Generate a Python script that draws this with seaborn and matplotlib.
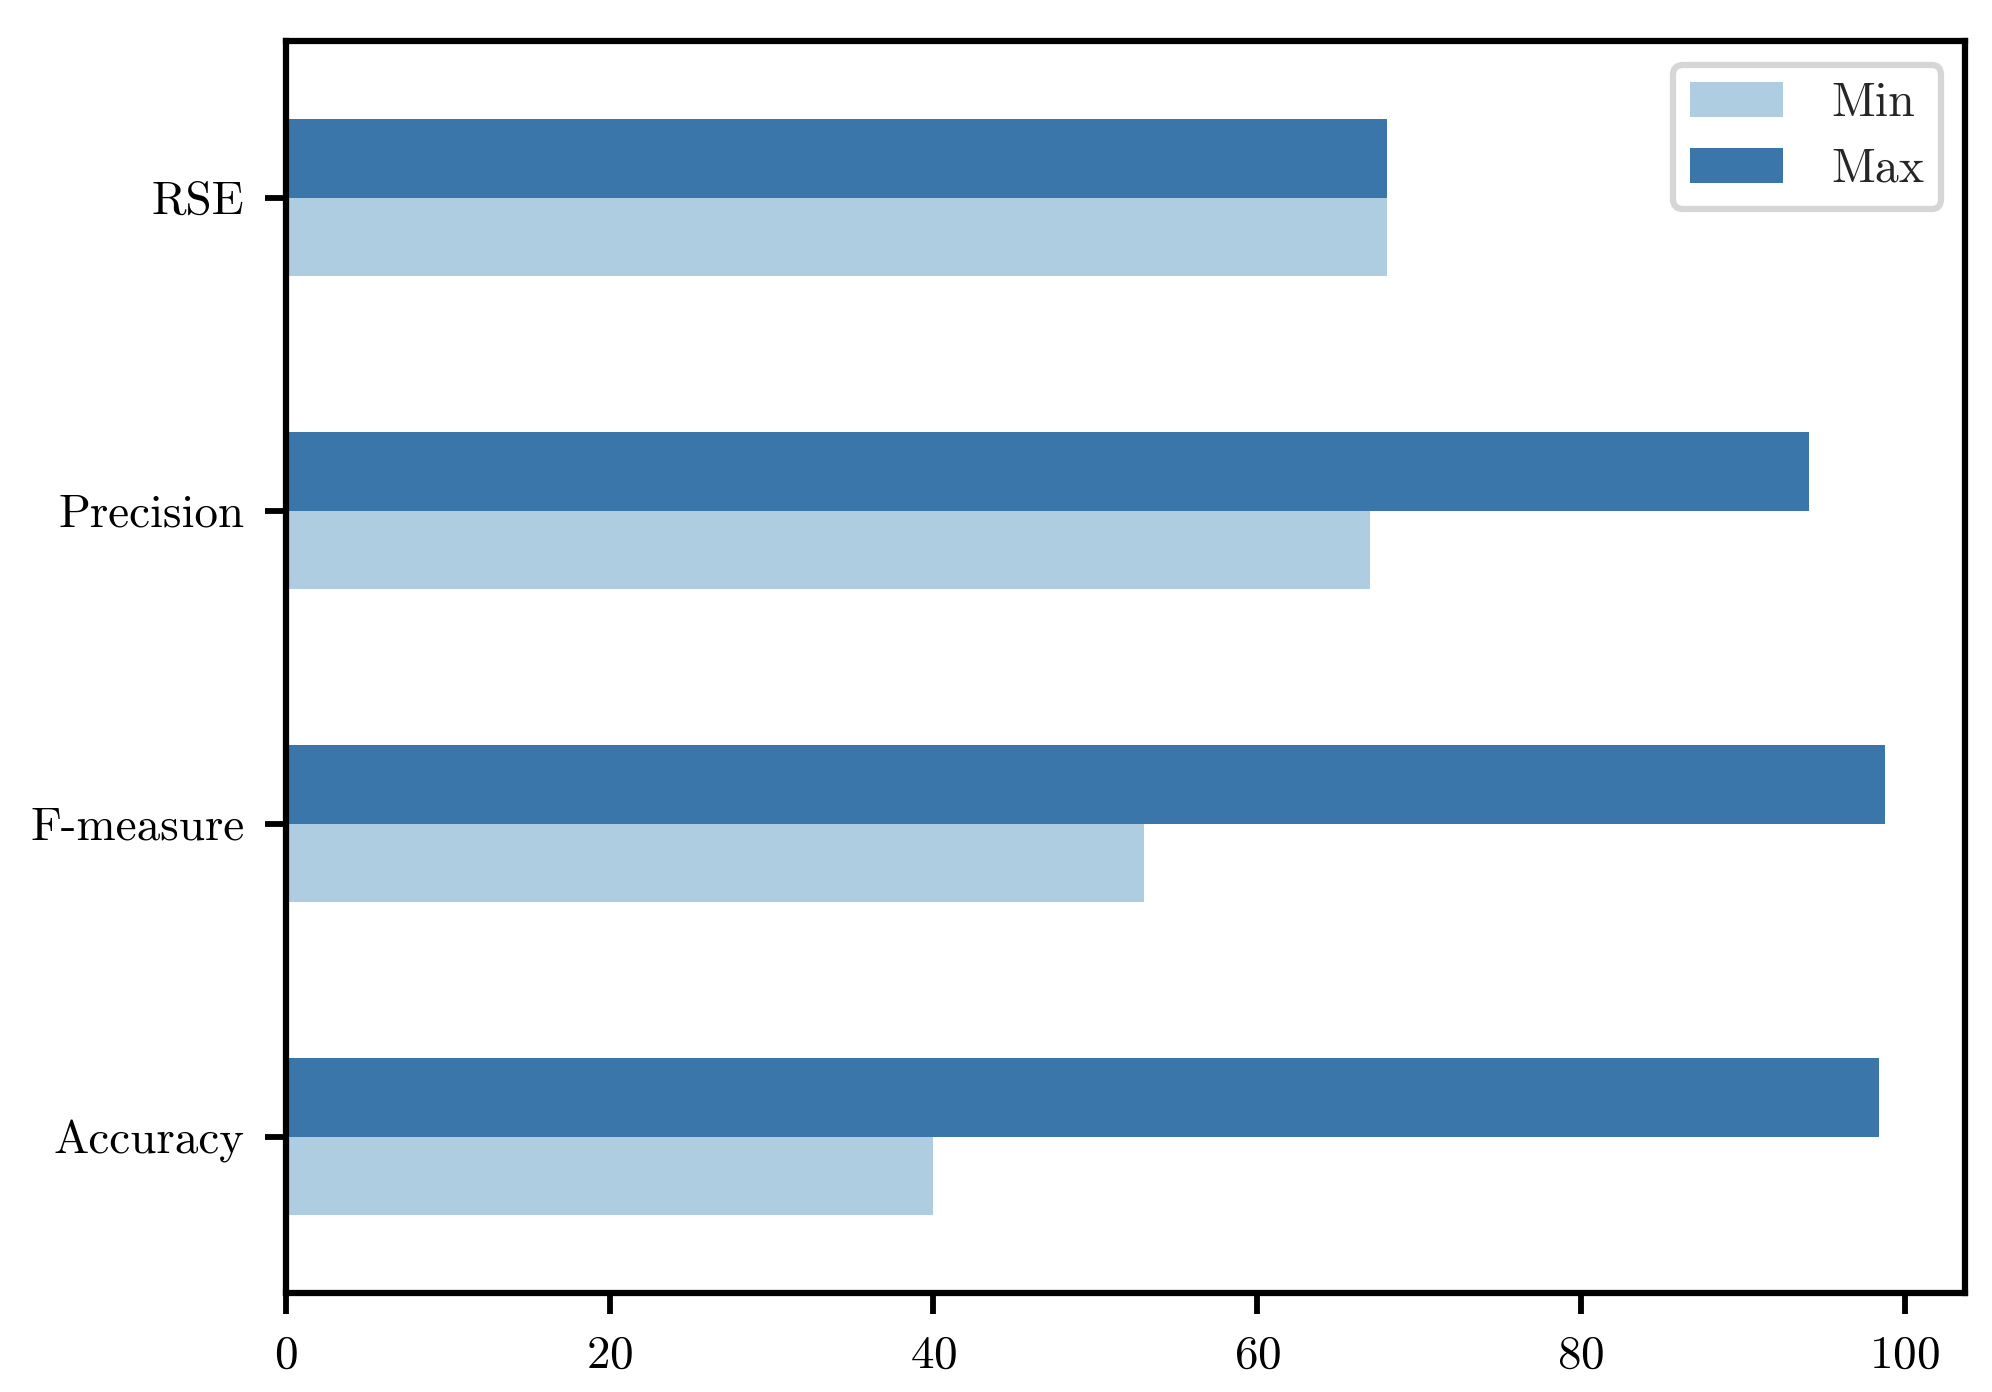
import pandas as pd
import seaborn as sns
import matplotlib.pyplot as plt

# Data
metrics = ['Accuracy', 'F-measure', 'Precision', 'RSE']
min_vals = [40.0, 53.0, 67.0, 68.0]
max_vals = [98.4, 98.8, 94.1, 68.0]
series = ['Min', 'Max']
colors = ['#afcde1', '#3b76ab']

df = pd.DataFrame({'metric': metrics * 2,
                   'value': min_vals + max_vals,
                   'kind': ['Min'] * len(metrics) + ['Max'] * len(metrics)})

sns.set_style('ticks')
plt.rcParams['font.family'] = ['cmr10', 'DejaVu Serif']
plt.rcParams['mathtext.fontset'] = 'cm'
plt.rcParams['axes.formatter.use_mathtext'] = True
plt.rcParams['axes.unicode_minus'] = False

fig, ax = plt.subplots(figsize=(6.64, 4.64), dpi=300)
fig.subplots_adjust(left=0.1436, right=0.9865, top=0.9705, bottom=0.0711)

sns.barplot(data=df, y='metric', x='value', hue='kind', order=metrics,
            hue_order=series, palette=colors, width=0.5, gap=0,
            orient='h', ax=ax, saturation=1, linewidth=0)

# first category at the bottom, like pandas barh
if ax.yaxis_inverted():
    ax.invert_yaxis()
ax.set_ylim(-0.5, 3.5)
ax.set_xlim(0, 103.74)
ax.set_xticks([0, 20, 40, 60, 80, 100])
ax.set_xlabel('')
ax.set_ylabel('')

for sp in ax.spines.values():
    sp.set_linewidth(1.5)
    sp.set_color('black')
ax.tick_params(axis='both', length=5, width=1.4, labelsize=11.3,
               colors='black', pad=5)

leg = ax.legend(loc='upper right', fontsize=11.5, title=None,
                fancybox=True, framealpha=1, edgecolor='0.84',
                handlelength=1.95, handleheight=0.75, borderpad=0.35,
                labelspacing=0.45, handletextpad=1.0)
leg.get_frame().set_linewidth(1.5)

fig.savefig('out.png', dpi=300)
